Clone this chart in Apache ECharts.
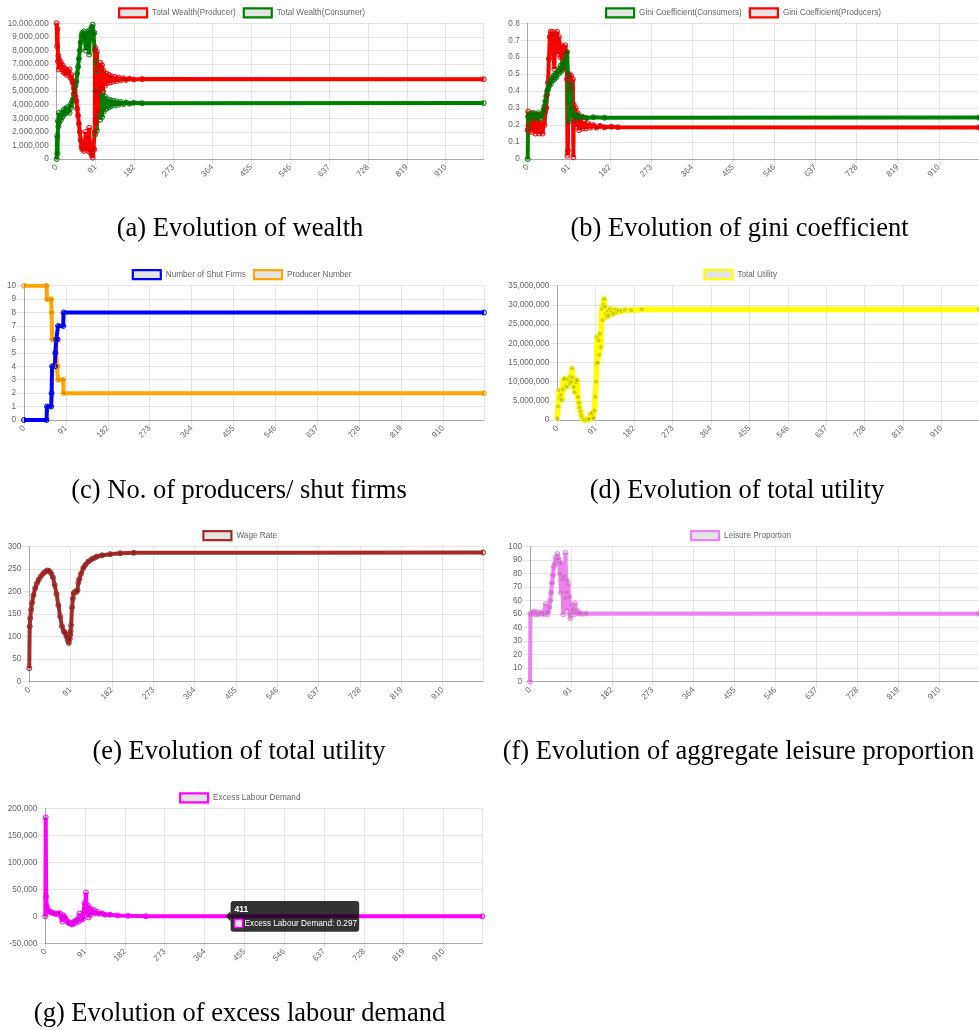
<!DOCTYPE html>
<html><head><meta charset="utf-8">
<script src="https://cdn.jsdelivr.net/npm/echarts@6/dist/echarts.min.js"></script>
<style>html,body{margin:0;padding:0;background:#fff}#c{width:979px;height:1030px}</style>
</head><body><div id="c"></div>
<script>
// ---------- DATA ----------
const xTickLabels = [0, 91, 182, 273, 364, 455, 546, 637, 728, 819, 910];

// (a) wealth
const wealthT = [0,1,2,3,4,5,6,8,10,12,14,16,18,20,22,24,26,28,30,32,34,36,38,40,42,44,46,48,50,52,54,56,58,60,62,64,66,68,70,72,74,76,78,80,82,84,86,88,89,90,91,92,93,94,96,98,100,102,104,106,108,110,113,116,119,122,125,128,132,136,140,145,150,156,162,170,180,200,999];
const producerWealth = [10000000,8300000,9600000,7200000,7600000,6600000,7300000,6900000,7100000,6600000,6900000,6400000,6700000,6300000,6600000,6200000,6500000,6400000,6600000,6000000,6200000,5800000,5600000,5200000,4900000,4600000,4300000,3700000,3200000,2600000,2000000,1400000,900000,700000,900000,600000,1100000,2000000,800000,1600000,600000,2300000,500000,1200000,300000,100000,800000,700000,2000000,8200000,5000000,3000000,2700000,7900000,3500000,6800000,5000000,7100000,5300000,6900000,5000000,6500000,5400000,6300000,5600000,6200000,5650000,6100000,5700000,6050000,5750000,6000000,5800000,5950000,5830000,5920000,5860000,5890000,5880000];
const consumerWealth = [0,1700000,400000,2800000,2400000,3400000,2700000,3100000,2900000,3400000,3100000,3600000,3300000,3700000,3400000,3800000,3500000,3600000,3400000,4000000,3800000,4200000,4400000,4800000,5100000,5400000,5700000,6300000,6800000,7400000,8000000,8600000,9100000,9300000,9100000,9400000,8900000,8000000,9200000,8400000,9400000,7700000,9500000,8800000,9700000,9900000,9200000,9300000,8000000,1800000,5000000,7000000,7200000,2100000,6500000,3200000,5000000,2900000,4700000,3100000,4900000,3500000,4600000,3700000,4400000,3800000,4350000,3900000,4300000,3950000,4250000,4000000,4200000,4050000,4170000,4080000,4140000,4110000,4120000];

// (b) gini
const giniProducerT = [0,1,2,3,5,7,9,11,13,15,17,19,21,23,25,27,29,31,33,35,37,39,41,43,45,47,49,51,53,55,57,59,61,63,65,67,69,71,73,75,77,79,81,83,85,87,88,89,90,92,94,96,98,100,101,102,104,106,108,111,114,117,121,125,129,134,139,145,152,160,170,185,200,999];
const giniProducer = [0.17,0.28,0.2,0.26,0.17,0.25,0.16,0.27,0.18,0.22,0.15,0.24,0.17,0.26,0.15,0.21,0.16,0.2,0.15,0.22,0.2,0.28,0.3,0.38,0.45,0.59,0.72,0.75,0.73,0.75,0.62,0.53,0.74,0.7,0.75,0.62,0.72,0.65,0.6,0.67,0.53,0.66,0.62,0.67,0.63,0.47,0.02,0.05,0.48,0.5,0.45,0.49,0.42,0.47,0.01,0.32,0.22,0.3,0.19,0.27,0.17,0.24,0.18,0.22,0.18,0.21,0.185,0.2,0.185,0.195,0.187,0.19,0.187,0.186];
const giniConsumerT = [0,1,3,5,7,9,11,13,15,17,19,21,23,25,27,29,31,33,35,37,39,41,43,45,47,49,51,53,55,57,59,61,63,65,67,69,71,73,75,77,79,81,83,85,87,89,91,93,95,97,99,102,106,110,115,121,130,145,170,999];
const giniConsumer = [0,0.25,0.26,0.24,0.27,0.25,0.26,0.24,0.27,0.25,0.26,0.24,0.27,0.25,0.26,0.24,0.25,0.27,0.29,0.31,0.34,0.37,0.4,0.41,0.43,0.45,0.44,0.47,0.46,0.49,0.47,0.5,0.48,0.51,0.5,0.53,0.51,0.55,0.52,0.56,0.54,0.58,0.56,0.6,0.63,0.5,0.22,0.42,0.44,0.3,0.26,0.27,0.24,0.26,0.245,0.25,0.242,0.246,0.243,0.244];

// (c) producers / shut firms
const shutFirmsT = [0,49,50,59,60,61,67,68,70,73,74,85,86,999];
const shutFirms = [0,0,1,1,2,4,4,5,6,6,7,7,8,8];
const producerNumberT = [0,49,50,59,60,61,70,71,73,74,85,86,999];
const producerNumber = [10,10,9,9,8,6,6,4,4,3,3,2,2];

// (d) total utility
const utilityT = [0,2,4,6,8,11,13,15,18,20,23,26,29,31,33,35,37,39,41,43,45,47,49,51,53,55,57,59,62,66,70,74,77,79,82,84,86,88,90,92,93,94,96,98,99,101,103,105,107,109,111,113,115,117,120,122,125,129,133,137,141,145,152,160,175,200,999];
const totalUtility = [400000,3500000,7800000,5500000,6500000,5200000,8000000,10600000,10800000,9000000,8600000,10500000,9500000,11200000,10000000,13500000,11000000,8600000,7200000,10500000,9800000,10400000,6000000,4500000,3200000,2200000,1200000,500000,100000,0,200000,100000,400000,1500000,1800000,800000,400000,2500000,6000000,10000000,14700000,21600000,15000000,20700000,17000000,22500000,19000000,29000000,26000000,30000000,31600000,29500000,27500000,26800000,28500000,27200000,29000000,28200000,27600000,28800000,28100000,28600000,28400000,28700000,28600000,28800000,28800000];

// (e) wage rate
const wageT = [0,1,2,4,6,9,13,17,21,26,31,36,40,44,48,52,56,60,64,68,72,76,79,82,85,87,89,90,91,92,94,96,98,101,104,106,108,110,114,119,124,130,137,143,149,160,178,200,230,999];
const wageRate = [30,123,141,160,175,192,208,219,227,235,241,245,247,246,241,232,215,195,170,145,123,112,108,100,92,86,95,104,112,125,165,185,197,200,200,203,220,228,240,253,260,267,272,275,278,281,283.5,285.5,286.5,287];

// (f) leisure proportion
const leisureT = [0,1,3,6,9,12,15,18,21,24,27,30,33,35,37,39,41,43,45,47,49,51,53,55,57,59,61,63,65,67,69,70,72,74,76,78,79,81,82,83,85,87,89,90,92,94,96,98,100,102,104,107,110,115,125,999];
const leisureProportion = [0,50,51,50.5,52,50,51.5,50,51,50.5,51,50,51,57.5,51,50,52,55,60,66,73,79,85,87,92,90,94.6,91,88,80,66,88,76,50,78,62,95.5,66,75,53,72,63,50,47,57,52,54,50,58,51,53,50.5,51,50.3,50.5,50.3];

// (g) excess labour demand
const excessT = [0,1,2,3,4,6,8,11,14,18,22,26,30,34,37,39,41,43,46,49,52,55,58,61,64,67,70,73,76,78,80,82,84,86,88,90,91,93,95,97,99,101,103,105,108,111,114,118,123,129,136,148,165,190,230,999];
const excessLabourDemand = [0,183000,37000,20000,14000,11000,9000,8700,7000,6000,5000,4500,5000,5500,-2000,-10000,2000,-1000,-4000,-8000,-11000,-13000,-12000,-15000,-14000,-9000,-12000,-6000,-10000,5000,-3000,-6000,-1000,-5000,8000,24000,15000,44000,6000,20000,-2000,15000,3000,12000,8000,11700,6000,8700,5000,5500,3000,3000,1500,800,300,0];
const tooltipStep = 411;
const tooltipValue = 0.297;

// ---------- LAYOUT / STYLE ----------
const SANS = '"Liberation Sans", Arial, sans-serif';
const SERIF = '"Liberation Serif", "Times New Roman", serif';
const GRID_C = 'rgba(0,0,0,0.1)';
const LABEL_C = '#666';
const FS = 8.2;

const panels = [
  {grid:{left:56.7, top:23.3, width:427, height:135.7}, y:[0,10000000,1000000], legend:[118,7.3],
   caption:'(a) Evolution of wealth', cap:[240,229],
   series:[{name:'Total Wealth(Producer)', color:'red', t:wealthT, v:producerWealth},
           {name:'Total Wealth(Consumer)', color:'green', t:wealthT, v:consumerWealth}]},
  {grid:{left:527.7, top:23.3, width:456, height:135.7}, y:[0,0.8,0.1], legend:[605,7.3],
   caption:'(b) Evolution of gini coefficient', cap:[739.5,229],
   series:[{name:'Gini Coefficient(Consumers)', color:'green', t:giniConsumerT, v:giniConsumer},
           {name:'Gini Coefficient(Producers)', color:'red', t:giniProducerT, v:giniProducer}]},
  {grid:{left:24, top:285.7, width:460, height:134.3}, y:[0,10,1], legend:[131.7,269],
   caption:'(c) No. of producers/ shut firms', cap:[239,491],
   series:[{name:'Number of Shut Firms', color:'blue', t:shutFirmsT, v:shutFirms},
           {name:'Producer Number', color:'orange', t:producerNumberT, v:producerNumber}]},
  {grid:{left:557.3, top:285.7, width:426, height:134.3}, y:[0,35000000,5000000], legend:[703.3,269], lw:5.5,
   caption:'(d) Evolution of total utility', cap:[737,491],
   series:[{name:'Total Utility', color:'yellow', fill:'rgba(120,120,40,0.35)', t:utilityT, v:totalUtility}]},
  {grid:{left:29.3, top:546.7, width:453.7, height:135}, y:[0,300,50], legend:[202.3,530], smooth:0.25,
   caption:'(e) Evolution of total utility', cap:[239,752],
   series:[{name:'Wage Rate', color:'brown', t:wageT, v:wageRate}]},
  {grid:{left:530, top:546.7, width:452.6, height:135}, y:[0,100,10], legend:[690,530],
   caption:'(f) Evolution of aggregate leisure proportion', cap:[738.5,752],
   series:[{name:'Leisure Proportion', color:'violet', t:leisureT, v:leisureProportion}]},
  {grid:{left:45.3, top:808.3, width:437, height:135}, y:[-50000,200000,50000], legend:[179,792.3],
   caption:'(g) Evolution of excess labour demand', cap:[239.5,1014],
   series:[{name:'Excess Labour Demand', color:'magenta', t:excessT, v:excessLabourDemand}]}
];

const fmtNum = v => Number(v).toLocaleString('en-US', {maximumFractionDigits: 3});

const option = {
  animation: false,
  backgroundColor: '#fff',
  textStyle: {fontFamily: SANS},
  grid: panels.map(p => Object.assign({containLabel:false}, p.grid)),
  xAxis: panels.map((p, i) => ({
    type:'value', gridIndex:i, min:0, max:999, interval:91,
    axisLine:{show:true, onZero:false, lineStyle:{color:'rgba(0,0,0,0.25)', width:1}},
    axisTick:{show:true, length:6, lineStyle:{color:GRID_C}},
    splitLine:{show:true, lineStyle:{color:GRID_C, width:1}},
    axisLabel:{rotate:45, fontSize:FS, color:LABEL_C, margin:7, showMaxLabel:false, fontFamily:SANS,
      formatter: v => xTickLabels.indexOf(v) >= 0 ? String(v) : ''}
  })),
  yAxis: panels.map((p, i) => ({
    type:'value', gridIndex:i, min:p.y[0], max:p.y[1], interval:p.y[2],
    axisLine:{show:true, lineStyle:{color:'rgba(0,0,0,0.25)', width:1}},
    axisTick:{show:true, length:7, lineStyle:{color:GRID_C}},
    splitLine:{show:true, lineStyle:{color:GRID_C, width:1}},
    axisLabel:{fontSize:FS, color:LABEL_C, margin:8, fontFamily:SANS, formatter: fmtNum}
  })),
  legend: panels.map(p => ({
    left:p.legend[0], top:p.legend[1], padding:0, icon:'rect', itemWidth:28, itemHeight:9, itemGap:7,
    selectedMode:false,
    textStyle:{fontSize:FS, color:LABEL_C, fontFamily:SANS},
    data: p.series.map(s => ({name:s.name, icon:'rect',
      itemStyle:{color:'#e4e4e4', borderColor:s.color, borderWidth:2.2}}))
  })),
  series: []
};

panels.forEach((p, gi) => {
  p.series.slice().reverse().forEach(s => {
    option.series.push({
      name:s.name, type:'line', xAxisIndex:gi, yAxisIndex:gi,
      data: s.t.map((x, k) => [x, s.v[k]]),
      symbol:'circle', symbolSize:5, showSymbol:true, showAllSymbol:true,
      smooth: p.smooth || false, smoothMonotone: 'x',
      lineStyle:{color:s.color, width:p.lw || 4},
      itemStyle:{color: s.fill || 'rgba(0,0,0,0.12)', borderColor:s.color, borderWidth:1},
      emphasis:{disabled:true}, silent:true
    });
  });
});

const chart = echarts.init(document.getElementById('c'), null, {renderer:'canvas'});
chart.setOption(option);

// Captions + tooltip annotation anchored at the hovered point of panel (g)
const captions = panels.map((p, i) => ({
  type:'text', id:'cap'+i, x:p.cap[0], y:p.cap[1],
  style:{text:p.caption, align:'center', verticalAlign:'middle', font:'26.5px ' + SERIF, fill:'#000'}
}));
const pt = chart.convertToPixel({gridIndex:6}, [tooltipStep, tooltipValue]);
const bx = pt[0] + 5.5, bw = 128.6, bh = 30.7, by = pt[1] - bh / 2;
const tip = {
  type:'group', id:'tip', z:100, children:[
    {type:'polygon', z:100, shape:{points:[[bx, pt[1]-5],[bx-5, pt[1]],[bx, pt[1]+5]]}, style:{fill:'rgba(0,0,0,0.8)'}},
    {type:'rect', z:100, shape:{x:bx, y:by, width:bw, height:bh, r:3}, style:{fill:'rgba(0,0,0,0.8)'}},
    {type:'text', z:101, x:bx+4, y:by+8.5, style:{text:String(tooltipStep), fill:'#fff', font:'bold 8.5px ' + SANS, verticalAlign:'middle'}},
    {type:'rect', z:101, shape:{x:bx+4, y:by+18.5, width:8, height:8}, style:{fill:'#e4e4e4', stroke:'#ff00ff', lineWidth:1.5}},
    {type:'text', z:101, x:bx+14, y:by+22.5, style:{text:'Excess Labour Demand: ' + tooltipValue, fill:'#fff', font:FS + 'px ' + SANS, verticalAlign:'middle'}}
  ]
};
chart.setOption({graphic: captions.concat([tip])});
</script></body></html>
